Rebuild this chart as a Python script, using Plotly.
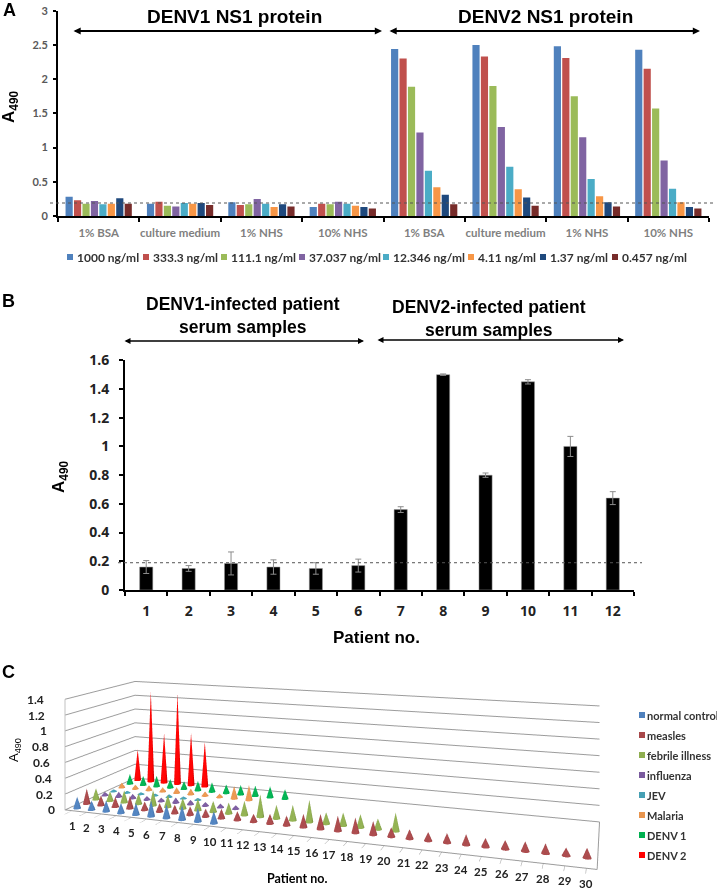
import math
import plotly.graph_objects as go

W, H = 717, 892

# ---------- Panel A ----------
a_groups = ["1% BSA", "culture medium", "1% NHS", "10% NHS"] * 2
a_names = ["1000 ng/ml", "333.3 ng/ml", "111.1 ng/ml", "37.037 ng/ml",
           "12.346 ng/ml", "4.11 ng/ml", "1.37 ng/ml", "0.457 ng/ml"]
a_colors = ["#4f81bd", "#c0504d", "#9bbb59", "#8064a2", "#4bacc6", "#f79646", "#1f497d", "#772c2a"]
a_1000 = [0.28, 0.18, 0.20, 0.13, 2.44, 2.50, 2.48, 2.43]
a_333 = [0.23, 0.21, 0.16, 0.18, 2.30, 2.33, 2.31, 2.15]
a_111 = [0.18, 0.15, 0.17, 0.17, 1.89, 1.90, 1.75, 1.57]
a_37 = [0.22, 0.14, 0.25, 0.21, 1.22, 1.30, 1.15, 0.81]
a_12 = [0.17, 0.19, 0.18, 0.18, 0.66, 0.72, 0.54, 0.40]
a_4 = [0.18, 0.18, 0.13, 0.15, 0.42, 0.39, 0.29, 0.20]
a_1 = [0.26, 0.19, 0.17, 0.13, 0.31, 0.27, 0.20, 0.13]
a_04 = [0.18, 0.16, 0.14, 0.11, 0.17, 0.15, 0.14, 0.11]
a_series = [a_1000, a_333, a_111, a_37, a_12, a_4, a_1, a_04]
a_cutoff = 0.19
a_legend_x = [67, 143, 221, 299, 383, 468, 540, 612]

# ---------- Panel B ----------
b_patients = list(range(1, 13))
b_values = [0.16, 0.15, 0.185, 0.16, 0.15, 0.17, 0.56, 1.50, 0.80, 1.45, 1.00, 0.64]
b_errors = [0.045, 0.02, 0.08, 0.05, 0.04, 0.045, 0.02, 0.005, 0.015, 0.015, 0.07, 0.045]
b_cutoff = 0.19

# ---------- Panel C ----------
c_names = ["normal control", "measles", "febrile illness", "influenza", "JEV", "Malaria", "DENV 1", "DENV 2"]
c_colors = ["#4f81bd", "#a8484a", "#8fae50", "#7a5a9e", "#46a0b4", "#e8954f", "#00b050", "#ff0000"]
c_normal = [0.15, 0.12, 0.14, 0.13, 0.15, 0.20, 0.17, 0.18, 0.17, 0.15]
c_measles = [0.20, 0.13, 0.13, 0.16, 0.11, 0.11, 0.11, 0.11, 0.10, 0.12, 0.11, 0.10, 0.12, 0.12, 0.16,
             0.18, 0.18, 0.18, 0.16, 0.11, 0.11, 0.10, 0.11, 0.12, 0.10, 0.10, 0.11, 0.11, 0.09, 0.11]
c_febrile = [0.15, 0.13, 0.16, 0.14, 0.20, 0.16, 0.14, 0.15, 0.14, 0.14, 0.18, 0.28, 0.17, 0.19, 0.27,
             0.14, 0.16, 0.16, 0.13, 0.22]
c_influenza = [0.05, 0.07, 0.06, 0.05, 0.05, 0.07, 0.06, 0.05, 0.05, 0.05]
c_jev = [0.03, 0.03, 0.03, 0.03, 0.04, 0.03, 0.03]
c_malaria = [0.07, 0.06, 0.07, 0.06, 0.08, 0.08, 0.06, 0.05, 0.17, 0.20]
c_denv1 = [0.14, 0.13, 0.15, 0.12, 0.11, 0.13, 0.13, 0.12, 0.13, 0.14, 0.15, 0.13]
c_denv2 = [0.44, 1.28, 0.70, 1.28, 0.73, 0.62]
c_series = [c_normal, c_measles, c_febrile, c_influenza, c_jev, c_malaria, c_denv1, c_denv2]
c_ztick = [0, 0.2, 0.4, 0.6, 0.8, 1, 1.2, 1.4]
c_xtick = list(range(1, 31))

HEAD = "Liberation Sans"
LAB = "Lato"


def fx(p):
    return p / W


def fy(p):
    return 1 - p / H


fig = go.Figure()

for name, vals, col in zip(a_names, a_series, a_colors):
    fig.add_trace(go.Bar(x=list(range(8)), y=vals, name=name, marker=dict(color=col, line_width=0),
                         xaxis="x", yaxis="y", showlegend=False))

fig.add_trace(go.Bar(x=b_patients, y=b_values, xaxis="x2", yaxis="y2", showlegend=False, width=0.31,
                     marker=dict(color="#000000", line=dict(color="#9a9a9a", width=0.5)),
                     error_y=dict(type="data", array=b_errors, color="#8c8c8c", thickness=1, width=3)))

# Panel C cones
NSEG = 14
RX, RY = 0.22, 0.24
for row, (name, vals, col) in enumerate(zip(c_names, c_series, c_colors), start=1):
    xs, ys, zs, ii, jj, kk = [], [], [], [], [], []
    for idx, v in enumerate(vals, start=1):
        base = len(xs)
        for s in range(NSEG):
            t = 2 * math.pi * s / NSEG
            xs.append(idx + RX * math.cos(t))
            ys.append(row + RY * math.sin(t))
            zs.append(0)
        xs.append(idx)
        ys.append(row)
        zs.append(v)
        for s in range(NSEG):
            ii.append(base + s)
            jj.append(base + (s + 1) % NSEG)
            kk.append(base + NSEG)
    fig.add_trace(go.Mesh3d(x=xs, y=ys, z=zs, i=ii, j=jj, k=kk, color=col, name=name, scene="scene",
                            hoverinfo="skip", flatshading=False, showlegend=False,
                            lighting=dict(ambient=0.75, diffuse=0.45, specular=0.15, roughness=0.6),
                            lightposition=dict(x=-100, y=-300, z=300)))

# ---------- layout ----------
ax_line = dict(showline=True, linecolor="black", linewidth=2, showgrid=False, zeroline=False)
scene_labels = [dict(x=v, y=0.5, z=0, text=str(v), showarrow=False, xanchor="center", yanchor="middle", yshift=-15,
                     font=dict(family=LAB, size=11.5, color="#222222", weight=700)) for v in c_xtick]
scene_labels += [dict(x=0.5, y=0.5, z=v, text=str(v), showarrow=False, xanchor="right", yanchor="middle",
                      xshift=-8 - 8 * v,
                      font=dict(family=LAB, size=12, color="#222222", weight=700)) for v in c_ztick]

layout = dict(
    width=W, height=H, autosize=False, margin=dict(l=0, r=0, t=0, b=0, autoexpand=False), showlegend=False,
    paper_bgcolor="white", plot_bgcolor="white", barmode="group", bargap=0.17, bargroupgap=0.15,
    xaxis=dict(domain=[fx(58), fx(709)], anchor="y", range=[-0.5, 7.5], tickmode="array",
               tickvals=list(range(8)), ticktext=a_groups, ticks="", ticklabelstandoff=5,
               tickfont=dict(family=LAB, size=11.5, color="#7f7f7f", weight=700),
               minor=dict(tickmode="array", tickvals=[i - 0.5 for i in range(9)], ticks="outside",
                          ticklen=4, tickwidth=1.5, tickcolor="black"), **ax_line),
    yaxis=dict(domain=[fy(216), fy(10.7)], anchor="x", range=[0, 3], tickmode="array",
               tickvals=[0, 0.5, 1, 1.5, 2, 2.5, 3], ticktext=["0", "0.5", "1", "1.5", "2", "2.5", "3"],
               ticks="outside", ticklen=3, tickwidth=1.5, tickcolor="black", ticklabelstandoff=3,
               tickfont=dict(family=LAB, size=11, color="#595959", weight=700), **ax_line),
    xaxis2=dict(domain=[fx(125), fx(634)], anchor="y2", range=[0.5, 12.5], tickmode="array",
                tickvals=b_patients, ticktext=[str(p) for p in b_patients], ticks="", ticklabelstandoff=7,
                tickfont=dict(family="Open Sans", size=14, color="#222222", weight=700),
                minor=dict(tickmode="array", tickvals=[i + 0.5 for i in range(13)], ticks="outside",
                           ticklen=4, tickwidth=1.5, tickcolor="black"), **ax_line),
    yaxis2=dict(domain=[fy(590), fy(360.3)], anchor="x2", range=[0, 1.6], tickmode="array",
                tickvals=[0, 0.2, 0.4, 0.6, 0.8, 1, 1.2, 1.4, 1.6],
                ticktext=["0", "0.2", "0.4", "0.6", "0.8", "1", "1.2", "1.4", "1.6"],
                ticks="outside", ticklen=4, tickwidth=1.5, tickcolor="black", ticklabelstandoff=7,
                tickfont=dict(family="Open Sans", size=14, color="#222222", weight=700), **ax_line),
    scene=dict(
        domain=dict(x=[0, 1], y=[0, 664 / H]),
        aspectmode="manual", aspectratio=dict(x=1, y=0.2415, z=0.217),
        camera=dict(eye=dict(x=0.5236, y=-1.4447, z=0.3815),
                    center=dict(x=0.07, y=-0.0149, z=0.3815),
                    up=dict(x=0, y=0, z=1), projection=dict(type="perspective")),
        xaxis=dict(range=[0.5, 30.5], autorange=False, tickmode="array", tickvals=c_xtick,
                   showticklabels=False, showgrid=False, zeroline=False, showline=True,
                   linecolor="#9c9c9c", linewidth=2, ticks="outside", ticklen=4, tickcolor="#9c9c9c",
                   showbackground=False, showspikes=False, title=dict(text="")),
        yaxis=dict(range=[0.5, 8.5], autorange=False, showticklabels=False, showgrid=False, zeroline=False,
                   showline=True, linecolor="#9c9c9c", linewidth=2, ticks="", showbackground=False,
                   showspikes=False, title=dict(text="")),
        zaxis=dict(range=[0, 1.4], autorange=False, tickmode="array", tickvals=c_ztick,
                   showticklabels=False, showgrid=True, gridcolor="#9c9c9c", gridwidth=2,
                   zeroline=False, showline=True, linecolor="#c0c0c0", linewidth=2, ticks="",
                   showbackground=False, showspikes=False, title=dict(text="")),
        bgcolor="rgba(0,0,0,0)",
        annotations=scene_labels,
    ),
    shapes=[
        dict(type="line", xref="paper", yref="y", x0=fx(50), x1=fx(713), y0=a_cutoff, y1=a_cutoff,
             line=dict(color="#555555", width=1, dash="dot")),
        dict(type="line", xref="paper", yref="y2", x0=fx(118), x1=fx(642), y0=b_cutoff, y1=b_cutoff,
             line=dict(color="#555555", width=1, dash="dot")),
    ],
)


def txt(s, x, y, size, family=HEAD, bold=True, color="black", angle=0, anchor="center"):
    return dict(text=s, xref="paper", yref="paper", x=fx(x), y=fy(y), showarrow=False, xanchor=anchor,
                yanchor="middle", textangle=angle,
                font=dict(family=family, size=size, color=color, weight=700 if bold else 400))


def arrow(x0, x1, y, width=1.8):
    return dict(text="", xref="paper", yref="paper", x=fx(x1), y=fy(y), ax=x0 - x1, ay=0, showarrow=True,
                arrowhead=2, arrowside="end+start", arrowsize=0.8, arrowwidth=width, arrowcolor="black")


def swatch(x, y, col, size=6):
    return dict(type="rect", xref="paper", yref="paper", x0=fx(x), x1=fx(x + size),
                y0=fy(y - size / 2), y1=fy(y + size / 2), fillcolor=col, line=dict(width=0))


annotations = [
    txt("A", 9, 10, 18), txt("B", 8, 301, 18), txt("C", 8, 672, 18),
    txt("DENV1 NS1 protein", 234, 16, 19), txt("DENV2 NS1 protein", 545, 16, 19),
    arrow(72, 382, 31), arrow(388, 700, 31),
    txt("A<sub>490</sub>", 10, 107, 17, angle=-90),
    txt("DENV1-infected patient<br>serum samples", 243, 315.5, 17.5),
    txt("DENV2-infected patient<br>serum samples", 489, 318.5, 17.5),
    arrow(123, 364, 341, 1.5), arrow(376, 624, 340, 1.5),
    txt("A<sub>490</sub>", 60, 477, 17, angle=-90),
    txt("Patient no.", 376, 637, 17),
    txt("A<sub>490</sub>", 14, 750, 13, bold=False, angle=-90),
    txt("Patient no.", 297, 878, 12.5, family=LAB),
]
shapes = list(layout["shapes"])
for name, col, x in zip(a_names, a_colors, a_legend_x):
    shapes.append(swatch(x, 257, col))
    annotations.append(txt(name, x + 8, 257, 12, family=LAB, color="#333333", anchor="left"))
for k, (name, col) in enumerate(zip(c_names, c_colors)):
    y = 715 + 20 * k
    shapes.append(swatch(639, y, col))
    annotations.append(txt(name, 645, y, 11, family=LAB, color="#333333", anchor="left"))
layout["annotations"] = annotations
layout["shapes"] = shapes

fig.update_layout(**layout)
fig.write_html("out.html", config=dict(displayModeBar=False),
               post_script="document.body.style.margin='0';document.body.style.overflow='hidden';")
